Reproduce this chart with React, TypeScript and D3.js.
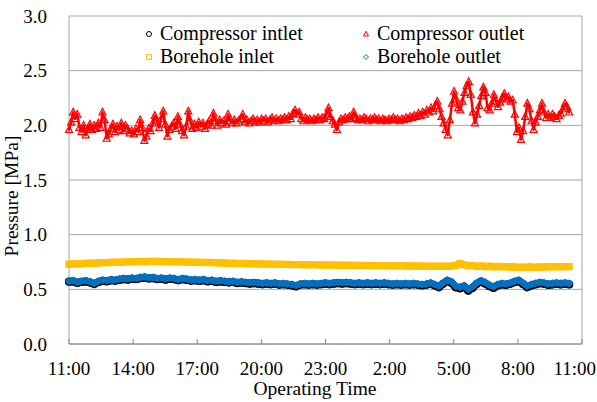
import React from "react";
import * as d3 from "d3";

// Readings start at 11:00; the last reading is at about 10:24 the next day (hours since 11:00)
const LAST_READING_H = 23.4;

const xTickHours = [0, 3, 6, 9, 12, 15, 18, 21, 24];
const xTickLabels = ["11:00", "14:00", "17:00", "20:00", "23:00", "2:00", "5:00", "8:00", "11:00"];
const yTicks = [0, 0.5, 1.0, 1.5, 2.0, 2.5, 3.0];

// Compressor outlet (sampled twice as often)
const compressorOutlet = [
  1.96, 2.03, 2.12, 2.06, 2.10, 1.98, 1.94, 2.00, 1.91, 1.96,
  2.01, 1.96, 2.00, 1.97, 2.02, 1.98, 2.12, 2.05, 1.88, 1.92,
  1.97, 2.01, 1.94, 1.99, 1.96, 2.02, 1.95, 2.00, 1.97, 1.93,
  1.95, 1.92, 1.97, 1.94, 2.05, 1.98, 1.86, 1.90, 1.97, 1.95,
  2.02, 2.09, 2.04, 1.98, 2.06, 2.13, 2.01, 1.90, 1.96, 1.99,
  2.02, 1.97, 2.08, 2.01, 1.95, 1.91, 1.99, 2.13, 2.04, 1.97,
  2.01, 1.98, 2.03, 1.99, 2.02, 1.97, 2.01, 2.04, 2.00, 2.11,
  2.04, 2.00, 2.05, 2.02, 2.04, 2.01, 2.10, 2.04, 2.02, 2.05,
  2.02, 2.04, 2.06, 2.10, 2.03, 2.05, 2.02, 2.04, 2.06, 2.03,
  2.05, 2.03, 2.06, 2.04, 2.06, 2.03, 2.05, 2.07, 2.04, 2.06,
  2.04, 2.06, 2.05, 2.07, 2.05, 2.08, 2.06, 2.11, 2.14, 2.10,
  2.12, 2.06, 2.04, 2.07, 2.05, 2.06, 2.04, 2.06, 2.05, 2.07,
  2.05, 2.07, 2.06, 2.10, 2.16, 2.08, 2.04, 2.01, 1.96, 2.03,
  2.06, 2.05, 2.07, 2.06, 2.08, 2.06, 2.12, 2.07, 2.05, 2.06,
  2.05, 2.07, 2.06, 2.04, 2.06, 2.05, 2.07, 2.05, 2.06, 2.04,
  2.06, 2.05, 2.04, 2.06, 2.05, 2.07, 2.05, 2.06, 2.04, 2.06,
  2.05, 2.07, 2.06, 2.08, 2.07, 2.09, 2.08, 2.11, 2.09, 2.12,
  2.10, 2.14, 2.12, 2.16, 2.13, 2.18, 2.22, 2.15, 2.08, 2.02,
  1.96, 1.91, 2.05, 2.20, 2.31, 2.24, 2.16, 2.14, 2.22, 2.30,
  2.36, 2.40, 2.28, 2.12, 2.02, 2.10, 2.18, 2.27, 2.35, 2.30,
  2.16, 2.14, 2.20, 2.28, 2.22, 2.17, 2.21, 2.25, 2.29, 2.24,
  2.26, 2.22, 2.23, 2.10, 1.94, 1.98, 1.87, 1.95, 2.08, 2.20,
  2.15, 2.04, 1.96, 2.03, 2.08, 2.14, 2.20, 2.12, 2.07, 2.10,
  2.07, 2.10, 2.08, 2.06, 2.09, 2.11, 2.15, 2.20, 2.17, 2.12,
];

const boreholeInlet = [
  0.730, 0.732, 0.735, 0.733, 0.737, 0.740, 0.738, 0.742, 0.745, 0.743,
  0.746, 0.748, 0.747, 0.750, 0.752, 0.750, 0.753, 0.755, 0.752, 0.755,
  0.757, 0.755, 0.753, 0.755, 0.752, 0.754, 0.750, 0.752, 0.748, 0.750,
  0.747, 0.748, 0.745, 0.746, 0.743, 0.744, 0.740, 0.742, 0.738, 0.740,
  0.736, 0.737, 0.735, 0.733, 0.735, 0.732, 0.733, 0.730, 0.731, 0.728,
  0.730, 0.727, 0.728, 0.726, 0.727, 0.725, 0.726, 0.724, 0.725, 0.723,
  0.724, 0.722, 0.723, 0.722, 0.720, 0.722, 0.720, 0.721, 0.719, 0.720,
  0.718, 0.719, 0.717, 0.718, 0.716, 0.717, 0.715, 0.716, 0.714, 0.716,
  0.713, 0.715, 0.712, 0.714, 0.712, 0.713, 0.711, 0.712, 0.710, 0.712,
  0.711, 0.713, 0.720, 0.735, 0.725, 0.715, 0.720, 0.710, 0.715, 0.708,
  0.712, 0.705, 0.710, 0.706, 0.708, 0.703, 0.705, 0.702, 0.704, 0.703,
  0.705, 0.702, 0.706, 0.704, 0.707, 0.705, 0.708, 0.706, 0.708, 0.707,
];

const boreholeOutlet = [
  0.575, 0.580, 0.565, 0.575, 0.580, 0.570, 0.555, 0.575, 0.585, 0.580,
  0.590, 0.585, 0.595, 0.600, 0.595, 0.605, 0.600, 0.610, 0.615, 0.605,
  0.610, 0.600, 0.605, 0.595, 0.605, 0.600, 0.590, 0.600, 0.595, 0.585,
  0.590, 0.585, 0.590, 0.580, 0.585, 0.575, 0.580, 0.575, 0.570, 0.575,
  0.565, 0.570, 0.565, 0.560, 0.565, 0.560, 0.555, 0.560, 0.555, 0.560,
  0.550, 0.555, 0.550, 0.545, 0.535, 0.550, 0.555, 0.550, 0.555, 0.550,
  0.555, 0.560, 0.555, 0.560, 0.565, 0.560, 0.565, 0.560, 0.555, 0.560,
  0.555, 0.560, 0.555, 0.560, 0.555, 0.560, 0.555, 0.550, 0.555, 0.550,
  0.555, 0.550, 0.555, 0.550, 0.545, 0.550, 0.560, 0.545, 0.530, 0.560,
  0.585, 0.570, 0.530, 0.520, 0.535, 0.500, 0.525, 0.560, 0.580, 0.565,
  0.540, 0.525, 0.545, 0.555, 0.550, 0.560, 0.575, 0.585, 0.560, 0.530,
  0.545, 0.555, 0.565, 0.560, 0.550, 0.555, 0.560, 0.555, 0.560, 0.555,
];

const compressorInlet = [
  0.570, 0.572, 0.558, 0.568, 0.572, 0.562, 0.548, 0.566, 0.578, 0.572,
  0.582, 0.578, 0.586, 0.592, 0.588, 0.596, 0.592, 0.602, 0.606, 0.598,
  0.602, 0.592, 0.596, 0.588, 0.596, 0.592, 0.582, 0.592, 0.586, 0.578,
  0.582, 0.576, 0.582, 0.572, 0.576, 0.566, 0.572, 0.566, 0.562, 0.566,
  0.556, 0.562, 0.556, 0.552, 0.556, 0.552, 0.546, 0.552, 0.546, 0.552,
  0.542, 0.546, 0.542, 0.536, 0.526, 0.542, 0.546, 0.542, 0.546, 0.542,
  0.546, 0.552, 0.546, 0.552, 0.556, 0.552, 0.556, 0.552, 0.546, 0.552,
  0.546, 0.552, 0.546, 0.552, 0.546, 0.552, 0.546, 0.542, 0.546, 0.542,
  0.546, 0.542, 0.546, 0.542, 0.536, 0.542, 0.550, 0.535, 0.518, 0.550,
  0.575, 0.558, 0.518, 0.508, 0.522, 0.488, 0.512, 0.548, 0.570, 0.552,
  0.528, 0.512, 0.534, 0.545, 0.540, 0.550, 0.565, 0.575, 0.548, 0.518,
  0.535, 0.545, 0.555, 0.550, 0.540, 0.545, 0.550, 0.545, 0.550, 0.545,
];

const legendLabels = ["Compressor intlet", "Compressor outlet", "Borehole inlet", "Borehole outlet"];

const W = 597;
const H = 402;
const FONT = "'Liberation Serif', 'Times New Roman', serif";

type Shape = "circle" | "triangle" | "square" | "diamond";

function markerPath(shape: Shape, s: number): string {
  const h = s / 2;
  switch (shape) {
    case "circle":
      return `M${h},0A${h},${h} 0 1,1 ${-h},0A${h},${h} 0 1,1 ${h},0Z`;
    case "triangle":
      return `M0,${-h * 1.1}L${h},${h * 0.8}L${-h},${h * 0.8}Z`;
    case "square":
      return `M${-h},${-h}L${h},${-h}L${h},${h}L${-h},${h}Z`;
    case "diamond":
      return `M0,${-h}L${h},0L0,${h}L${-h},0Z`;
  }
}

export default function App() {
  const x = d3.scaleLinear().domain([0, 24]).range([69, 582]);
  const y = d3.scaleLinear().domain([0, 3]).range([344, 16]);

  const timesFor = (n: number) => d3.range(n).map((i) => (i * LAST_READING_H) / (n - 1));

  const series: { values: number[]; color: string; shape: Shape; lw: number; size: number }[] = [
    { values: compressorOutlet, color: "#FF0000", shape: "triangle", lw: 2.5, size: 7 },
    { values: boreholeInlet, color: "#FFC000", shape: "square", lw: 6.5, size: 6 },
    { values: compressorInlet, color: "#000000", shape: "circle", lw: 7.5, size: 7 },
    { values: boreholeOutlet, color: "#0070C0", shape: "diamond", lw: 6.5, size: 6.5 },
  ];

  const legend: { label: string; color: string; shape: Shape; lx: number; ly: number }[] = [
    { label: legendLabels[0], color: "#000000", shape: "circle", lx: 149, ly: 34 },
    { label: legendLabels[1], color: "#FF0000", shape: "triangle", lx: 366, ly: 34 },
    { label: legendLabels[2], color: "#FFC000", shape: "square", lx: 149, ly: 57 },
    { label: legendLabels[3], color: "#0070C0", shape: "diamond", lx: 366, ly: 57 },
  ];

  return (
    <svg width={W} height={H} style={{ position: "absolute", left: 0, top: 0, background: "#fff" }}>
      <rect x={0} y={0} width={W} height={H} fill="#fff" />
      {yTicks.map((t) => (
        <line key={"g" + t} x1={x(0)} x2={x(24)} y1={y(t)} y2={y(t)} stroke="#a6a6a6" strokeWidth={1} />
      ))}
      <line x1={x(0)} x2={x(0)} y1={y(0)} y2={y(3)} stroke="#a6a6a6" />
      <line x1={x(24)} x2={x(24)} y1={y(0)} y2={y(3)} stroke="#a6a6a6" />
      <line x1={x(0)} x2={x(24)} y1={y(0)} y2={y(0)} stroke="#868686" />
      {xTickHours.map((h) => (
        <line key={"t" + h} x1={x(h)} x2={x(h)} y1={y(0)} y2={y(0) - 5} stroke="#868686" />
      ))}
      {yTicks.map((t) => (
        <text key={"yl" + t} x={47} y={y(t)} dy="0.35em" textAnchor="end" fontFamily={FONT} fontSize={19} fill="#000">
          {t.toFixed(1)}
        </text>
      ))}
      {xTickHours.map((h, i) => {
        const last = i === xTickHours.length - 1;
        return (
          <text
            key={"xl" + i}
            x={last ? 596 : x(h)}
            y={375}
            textAnchor={last ? "end" : "middle"}
            fontFamily={FONT}
            fontSize={19}
            fill="#000"
          >
            {xTickLabels[i]}
          </text>
        );
      })}
      <text x={315} y={395} textAnchor="middle" fontFamily={FONT} fontSize={19.5} fill="#000">
        Operating Time
      </text>
      <text transform="translate(18,196) rotate(-90)" textAnchor="middle" fontFamily={FONT} fontSize={19.5} fill="#000">
        Pressure [MPa]
      </text>
      {series.map((s, si) => {
        const times = timesFor(s.values.length);
        const line = d3
          .line<number>()
          .x((_, i) => x(times[i]))
          .y((d) => y(d));
        return (
          <g key={"s" + si}>
            <path d={line(s.values) || ""} fill="none" stroke={s.color} strokeWidth={s.lw} strokeLinejoin="round" strokeLinecap="round" />
            {s.values.map((v, i) => (
              <path
                key={i}
                d={markerPath(s.shape, s.size)}
                transform={`translate(${x(times[i])},${y(v)})`}
                fill="none"
                stroke={s.color}
                strokeWidth={1.2}
              />
            ))}
          </g>
        );
      })}
      {legend.map((l, i) => (
        <g key={"lg" + i}>
          <path d={markerPath(l.shape, 5)} transform={`translate(${l.lx},${l.ly})`} fill="none" stroke={l.color} strokeWidth={1} />
          <text x={l.lx + 11} y={l.ly + 6} fontFamily={FONT} fontSize={20} fill="#000">
            {l.label}
          </text>
        </g>
      ))}
    </svg>
  );
}
